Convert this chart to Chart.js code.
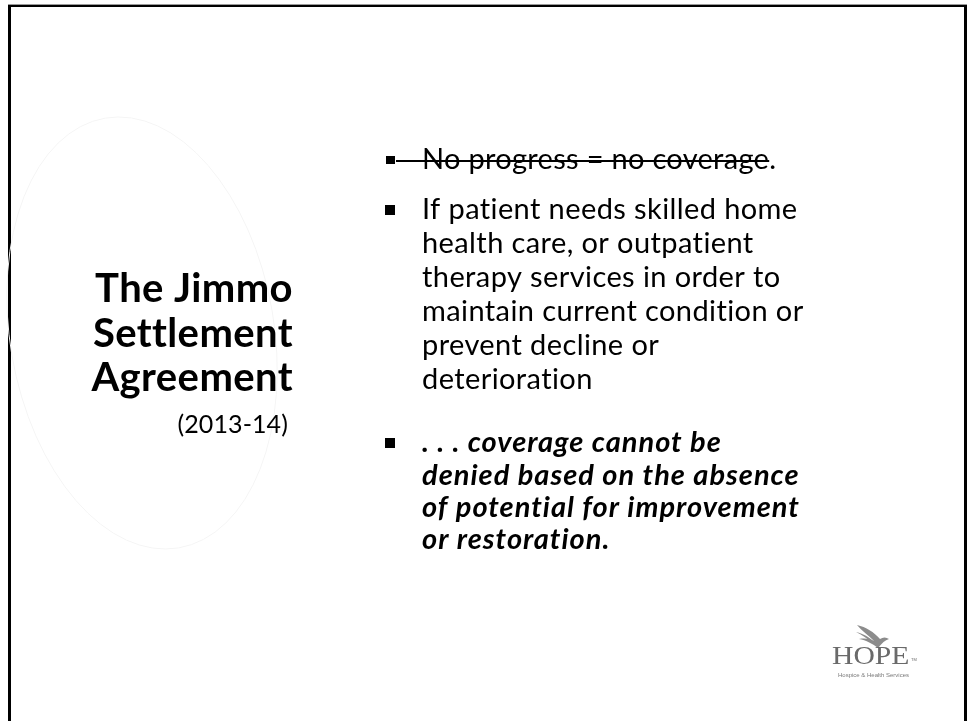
<!DOCTYPE html>
<html>
<head>
<meta charset="utf-8">
<script src="https://cdn.jsdelivr.net/npm/chart.js@4"></script>
<style>
  html, body { margin: 0; padding: 0; background: #ffffff; }
  #slide { display: block; }
</style>
</head>
<body>
<canvas id="slide" width="969" height="721"></canvas>
<script>
// ---- content ----
const titleLines = ["The Jimmo", "Settlement", "Agreement"];
const titleNote = "(2013-14)";
const struckBullet = "No progress = no coverage";
const struckTail = ".";
const bulletTwoLines = [
  "If patient needs skilled home",
  "health care, or outpatient",
  "therapy services in order to",
  "maintain current condition or",
  "prevent decline or",
  "deterioration"
];
const bulletThreeLines = [
  ". . . coverage cannot be",
  "denied based on the absence",
  "of potential for improvement",
  "or restoration."
];
const logoWord = "HOPE";
const logoTag = "Hospice & Health Services";

// ---- drawing plugin ----
const slidePlugin = {
  id: 'slide',
  afterDraw(chart) {
    const ctx = chart.ctx;
    ctx.save();

    // frame (left, top, right edges)
    ctx.fillStyle = '#000';
    ctx.fillRect(8, 4, 3, 717);
    ctx.fillRect(8, 4, 959, 3);
    ctx.fillRect(964, 4, 3, 717);
    ctx.fillStyle = '#9a9a9a';
    ctx.fillRect(8, 4, 959, 1);

    // faint background oval
    ctx.strokeStyle = '#f5f5f5';
    ctx.lineWidth = 1;
    ctx.beginPath();
    ctx.ellipse(142, 333, 132, 218, -0.17, 0, Math.PI * 2);
    ctx.stroke();

    // title
    ctx.fillStyle = '#000';
    ctx.textAlign = 'right';
    ctx.textBaseline = 'alphabetic';
    ctx.letterSpacing = '0.4px';
    ctx.font = 'bold 40px Lato';
    const titleBase = [302, 347, 391];
    titleLines.forEach((t, i) => ctx.fillText(t, 293, titleBase[i]));
    ctx.letterSpacing = '0.1px';
    ctx.font = '25px Lato';
    ctx.fillText(titleNote, 288, 433);

    // body text
    ctx.textAlign = 'left';
    ctx.letterSpacing = '0.3px';
    const tx = 422;
    const bullet = (cy) => ctx.fillRect(385, cy - 5, 10, 10);

    // bullet 1 (struck through)
    ctx.font = '29px Lato';
    ctx.fillText(struckBullet, tx, 169);
    const w1 = ctx.measureText(struckBullet).width;
    ctx.fillText(struckTail, tx + w1, 169);
    ctx.fillRect(386, 156, 9, 8);
    ctx.fillRect(396, 160, tx + w1 - 396, 2);

    // bullet 2
    ctx.letterSpacing = '0.4px';
    bullet(210);
    const b2 = [219, 253, 287, 321, 355, 389];
    bulletTwoLines.forEach((t, i) => ctx.fillText(t, tx, b2[i]));

    // bullet 3 (bold italic)
    bullet(443);
    ctx.letterSpacing = '1px';
    ctx.font = 'italic bold 29px Lato';
    const b3 = [452, 484.5, 517, 549];
    bulletThreeLines.forEach((t, i) => ctx.fillText(t, tx, b3[i]));
    ctx.letterSpacing = '0px';

    // logo: bird
    ctx.fillStyle = '#8c8c8c';
    ctx.beginPath();
    ctx.moveTo(857, 625);
    ctx.bezierCurveTo(866, 627, 874, 632, 880, 639);
    ctx.bezierCurveTo(883, 637, 886, 637, 889, 639);
    ctx.bezierCurveTo(885, 640, 882, 643, 878, 648);
    ctx.bezierCurveTo(873, 644, 866, 640, 859, 639);
    ctx.bezierCurveTo(866, 638, 870, 639, 874, 641);
    ctx.bezierCurveTo(868, 635, 862, 631, 857, 625);
    ctx.closePath();
    ctx.fill();
    ctx.beginPath();
    ctx.moveTo(856, 632);
    ctx.bezierCurveTo(864, 634, 869, 637, 873, 641);
    ctx.lineTo(871, 642);
    ctx.bezierCurveTo(867, 638, 862, 635, 856, 632);
    ctx.fill();

    // logo: word
    ctx.fillStyle = '#6a6a6a';
    ctx.save();
    ctx.translate(832, 664);
    ctx.scale(1.14, 1);
    ctx.font = '26px "Liberation Serif"';
    ctx.fillText(logoWord, 0, 0);
    ctx.restore();
    ctx.font = '4px "Liberation Sans"';
    ctx.fillText('TM', 911, 661);
    ctx.font = '6px "Liberation Sans Narrow", "Liberation Sans"';
    ctx.fillStyle = '#7a7a7a';
    ctx.fillText(logoTag, 838, 677);

    ctx.restore();
  }
};

new Chart(document.getElementById('slide'), {
  type: 'scatter',
  data: { datasets: [] },
  options: {
    responsive: false,
    animation: false,
    events: [],
    layout: { padding: 0 },
    plugins: { legend: { display: false }, tooltip: { enabled: false }, title: { display: false } },
    scales: { x: { display: false }, y: { display: false } }
  },
  plugins: [slidePlugin]
});
</script>
</body>
</html>
